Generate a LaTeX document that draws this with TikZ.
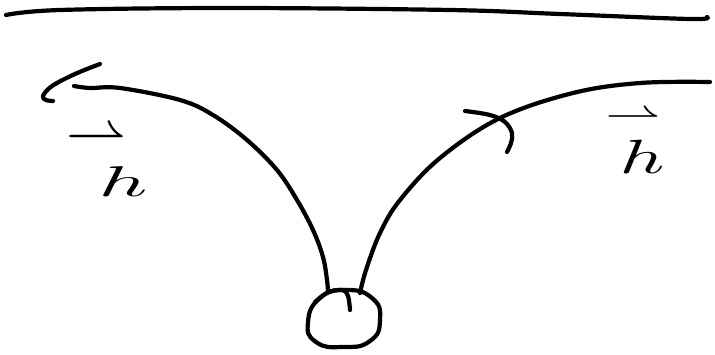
\documentclass[tikz,border=0pt]{standalone}
\usepackage{amssymb}
\begin{document}
\begin{tikzpicture}[x=1pt,y=-1pt,
  ink/.style={line width=4.2pt,line cap=round,line join=round,black},
  lbl/.style={inner sep=0pt,outer sep=0pt}]
\useasboundingbox (0,0) rectangle (715,354);
% top surface line
\draw[ink] plot[smooth,tension=0.6] coordinates {(6,15) (60,10) (230,8) (450,10) (560,14) (690,19) (707,17)};
% left curve
\draw[ink] plot[smooth,tension=0.6] coordinates {(74,86) (90,88) (120,88) (180,100) (213,115) (247,140) (277,170) (297,200) (313,230) (323,257) (327,280) (328,292)};
% left arrowhead
\draw[ink] plot[smooth,tension=0.6] coordinates {(100,64) (75,74) (52,86) (43,96) (46,100) (53,101)};
% right curve
\draw[ink] plot[smooth,tension=0.6] coordinates {(360,293) (366,270) (380,233) (400,200) (440,158) (500,118) (573,93) (640,83) (710,82)};
% right arrowhead
\draw[ink] plot[smooth,tension=0.6] coordinates {(465,111) (490,115) (505,122) (512,133) (511,143) (507,152)};
% bottom blob
\draw[ink] plot[smooth cycle,tension=0.9] coordinates {(345,290) (372,298) (380,320) (370,341) (343,347) (316,342) (308,322) (320,298)};
\draw[ink] plot[smooth,tension=0.6] coordinates {(315,302) (327,293) (342,290) (348,296) (350,310)};
% labels
\node[lbl] (aL) at (96,140) {\scalebox{6}[6]{$\rightharpoonup$}};
\node[lbl] (hL) at (123,182) {\scalebox{8.5}[4.3]{$h$}};
\node[lbl] (aR) at (633,119) {\scalebox{5.5}[4]{$\rightharpoonup$}};
\node[lbl] (hR) at (642,157) {\scalebox{7.8}[4.8]{$h$}};
\end{tikzpicture}
\end{document}
